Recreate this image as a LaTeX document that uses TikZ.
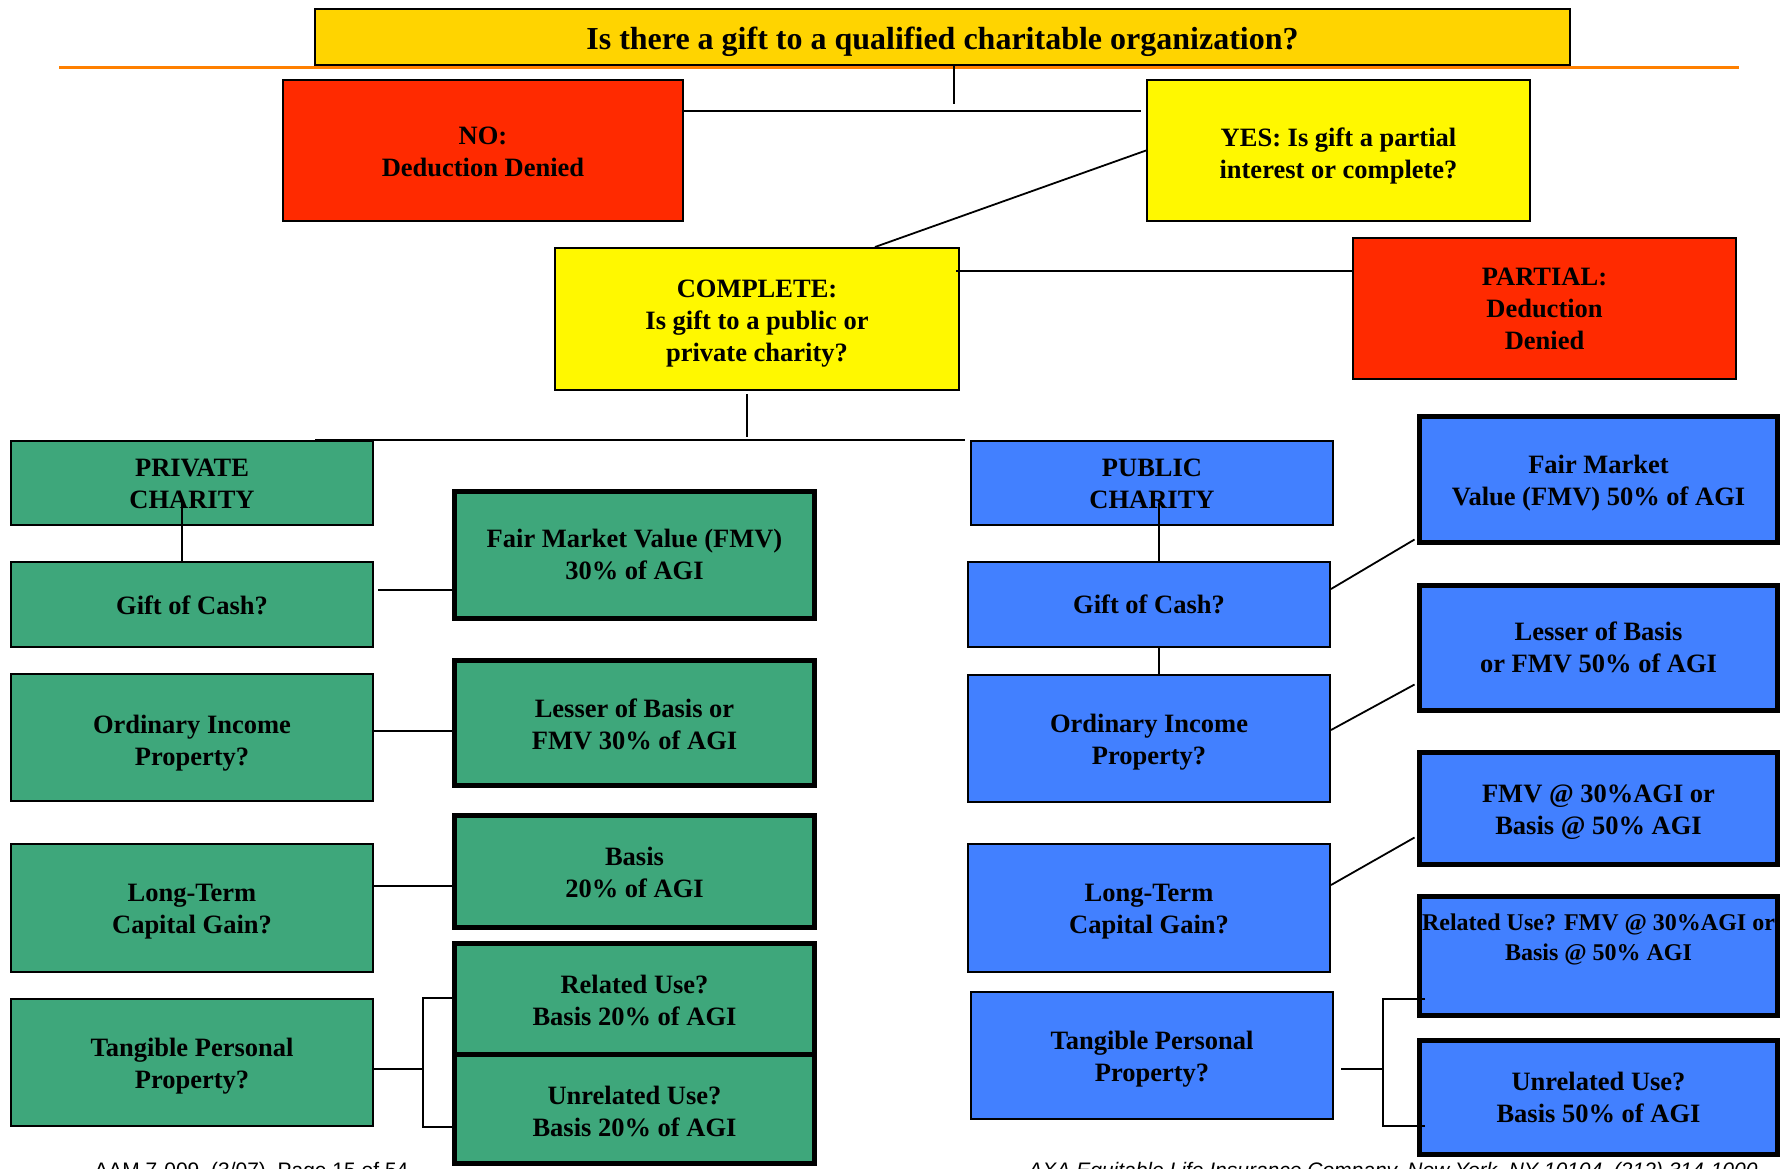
\documentclass[tikz,border=0pt]{standalone}
\usepackage{fontspec}
\setmainfont{Liberation Serif}
\newfontfamily\footfont{Liberation Sans}
\usetikzlibrary{calc}
\definecolor{gold}{RGB}{255,212,0}
\definecolor{redc}{RGB}{255,42,0}
\definecolor{yel}{RGB}{255,248,0}
\definecolor{grn}{RGB}{62,167,123}
\definecolor{blu}{RGB}{66,128,255}
\definecolor{orng}{RGB}{255,128,0}
\tikzset{
  sz/.style 2 args={minimum width=#1*0.5pt, minimum height=#2*0.5pt},
  box/.style={draw=black, line width=1pt, inner sep=0pt},
  gbox/.style={box, fill=grn},
  bbox/.style={box, fill=blu},
  tgbox/.style={gbox, line width=2.5pt},
  tbbox/.style={bbox, line width=2.5pt},
  txt/.style={align=center, inner sep=0pt, font=\bfseries\fontsize{13.25}{16}\selectfont},
  conn/.style={draw=black, line width=0.9pt},
}
% #1 box style, #2 name, #3 x, #4 y, #5 width, #6 height, #7 text shift, #8 text
\newcommand\mybox[8]{%
  \node[#1, sz={#5}{#6}] (#2) at (#3,#4) {};
  \node[txt] (#2t) at (#3,#4+#7) {#8};
}
\begin{document}
\begin{tikzpicture}[x=0.5pt,y=-0.5pt]
\useasboundingbox (0,0) rectangle (1781,1168);
\clip (0,0) rectangle (1781,1168);

% orange rule
\draw[orng, line width=1.2pt] (59,67.5) -- (1739,67.5);

% top level
\node[box, fill=gold, sz={1255}{56}] (title) at (942.5,37) {};
\node[txt, font=\bfseries\fontsize{16}{19}\selectfont] (titlet) at (942.5,41.5) {Is there a gift to a qualified charitable organization?};
\mybox{box, fill=redc}{nob}{483}{150.5}{400}{141}{1}{NO:\\Deduction Denied}
\mybox{box, fill=yel}{yes}{1338.5}{150.5}{383}{141}{5.7}{YES: Is gift a partial\\interest or complete?}
\mybox{box, fill=yel}{comp}{757}{319}{404}{142}{4.5}{COMPLETE:\\Is gift to a public or\\private charity?}
\mybox{box, fill=redc}{part}{1544.5}{308.5}{383}{141}{0}{PARTIAL:\\Deduction\\Denied}

% private side
\mybox{gbox}{priv}{192}{483}{362}{84}{1}{PRIVATE\\CHARITY}
\mybox{gbox}{pgift}{192}{604.5}{362}{85}{1}{Gift of Cash?}
\mybox{gbox}{pord}{192}{737.5}{362}{127}{5.7}{Ordinary Income\\Property?}
\mybox{gbox}{plt}{192}{908}{362}{128}{3.4}{Long-Term\\Capital Gain?}
\mybox{gbox}{ptan}{192}{1062.5}{362}{127}{3.4}{Tangible Personal\\Property?}

\mybox{tgbox}{pfmv}{634.5}{555}{360}{127}{-1}{Fair Market Value (FMV)\\30\% of AGI}
\mybox{tgbox}{pless}{634.5}{723}{360}{125}{1}{Lesser of Basis or\\FMV 30\% of AGI}
\mybox{tgbox}{pbasis}{634.5}{871.5}{360}{112}{1}{Basis\\20\% of AGI}
\mybox{tgbox}{prel}{634.5}{999.5}{360}{112}{1}{Related Use?\\Basis 20\% of AGI}
\mybox{tgbox}{punrel}{634.5}{1109}{360}{109}{2}{Unrelated Use?\\Basis 20\% of AGI}

% public side
\mybox{bbox}{pub}{1152}{483}{362}{84}{1}{PUBLIC\\CHARITY}
\mybox{bbox}{ugift}{1149}{604.5}{362}{85}{0}{Gift of Cash?}
\mybox{bbox}{uord}{1149}{738.5}{362}{127}{3.4}{Ordinary Income\\Property?}
\mybox{bbox}{ult}{1149}{908}{362}{128}{3.4}{Long-Term\\Capital Gain?}
\mybox{bbox}{utan}{1152}{1055.5}{362}{127}{3.4}{Tangible Personal\\Property?}

\mybox{tbbox}{ufmv}{1598.5}{479.5}{358}{126}{3.4}{Fair Market\\Value (FMV) 50\% of AGI}
\mybox{tbbox}{uless}{1598.5}{648}{358}{125}{-1}{Lesser of Basis\\or FMV 50\% of AGI}
\mybox{tbbox}{u30}{1598.5}{808.5}{358}{112}{3.4}{FMV @ 30\%AGI or\\Basis @ 50\% AGI}
\node[tbbox, sz={358}{119}] (urel) at (1598.5,956) {};
\node[txt, font=\bfseries\fontsize{12}{15}\selectfont] (urelt) at (1598.5,939) {Related Use? FMV @ 30\%AGI or\\Basis @ 50\% AGI};
\mybox{tbbox}{uunrel}{1598.5}{1097.5}{358}{114}{0}{Unrelated Use?\\Basis 50\% of AGI}

% connectors: top
\coordinate (tj) at (954,104);
\draw[conn] (title.south -| tj) -- (tj);
\coordinate (yj) at (1141,111);
\draw[conn] (yj -| nob.east) -- (yj);
\draw[conn] (yes.west) -- ($(comp.north)+(118,0)$);
\draw[conn] ($(comp.north east)+(-4,24)$) -- ($(part.north west)+(0,34)$);
\draw[conn] ($(comp.south)+(-10,3)$) -- ($(comp.south)+(-10,46)$);
\coordinate (hl) at (315,440);
\coordinate (hr) at (965,440);
\draw[conn] (hl) -- (hr);

% private connectors
\draw[conn] ($(priv.center)+(-10,19)$) -- ($(pgift.north)+(-10,0)$);
\draw[conn] ($(pgift.east)+(4,-14.5)$) coordinate (a1) -- (a1 -| pfmv.west);
\draw[conn] ($(pord.east)+(0,-6.5)$) coordinate (a2) -- (a2 -| pless.west);
\draw[conn] ($(plt.east)+(0,-22)$) coordinate (a3) -- (a3 -| pbasis.west);
\coordinate (pb) at (423,1069);
\draw[conn] ($(ptan.east)+(0,6.5)$) -- (pb);
\draw[conn] (prel.west |- ptan.north) -- (pb |- ptan.north) -- (pb |- ptan.south) -- (punrel.west |- ptan.south);

% public connectors
\draw[conn] ($(pub.center)+(7,20)$) -- ($(ugift.north)+(10,0)$);
\draw[conn] ($(ugift.south)+(10,0)$) -- ($(uord.north)+(10,0)$);
\draw[conn] ($(ugift.east)+(0,-15.5)$) -- ($(ufmv.south west)+(-2.5,-5.5)$);
\draw[conn] ($(uord.east)+(0,-8.5)$) -- ($(uless.south west)+(-2.5,-28.5)$);
\draw[conn] ($(ult.east)+(0,-23)$) -- ($(u30.south west)+(-2.5,-29.5)$);
\coordinate (ub) at (1383,1069);
\coordinate (ubt) at (1383,999);
\coordinate (ubb) at (1383,1126);
\draw[conn] ($(utan.east)+(7,13.5)$) -- (ub);
\draw[conn] ($(urel.west |- ubt)+(8,0)$) -- (ubt) -- (ubb) -- ($(uunrel.west |- ubb)+(8,0)$);

% footer (cut off at the page edge, as in the original)
\node[anchor=base west, inner sep=0pt, font=\footfont\fontsize{10.5}{12}\selectfont] (footl) at (94,1177) {AAM 7-009\ \ (3/07)\ \ Page 15 of 54};
\node[anchor=base west, inner sep=0pt, font=\footfont\itshape\fontsize{10.5}{12}\selectfont] (footr) at (1028,1177) {AXA Equitable Life Insurance Company, New York, NY 10104\ \ (212) 314-1000};
\end{tikzpicture}
\end{document}
